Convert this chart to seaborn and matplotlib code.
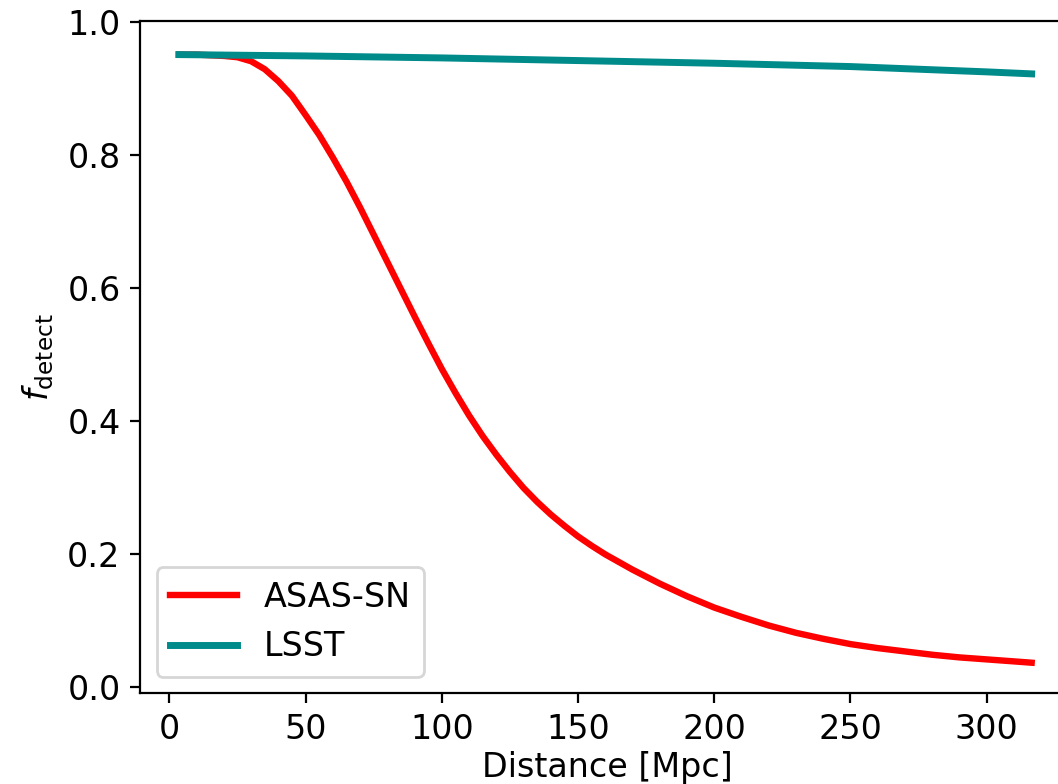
import numpy as np
import pandas as pd
import seaborn as sns
import matplotlib
matplotlib.use("Agg")
import matplotlib.pyplot as plt

# Values
asassn_dist = [3.5, 10, 15, 20, 25, 30, 35, 40, 45, 50, 55, 60, 65, 70, 75,
               80, 85, 90, 95, 100, 105, 110, 115, 120, 125, 130, 135, 140,
               145, 150, 155, 160, 170, 180, 190, 200, 210, 220, 230, 240, 250,
               260, 270, 280, 290, 300, 310, 316.5]
asassn_frac = [0.951, 0.951, 0.950, 0.949, 0.947, 0.941, 0.929, 0.911, 0.889,
               0.860, 0.830, 0.796, 0.760, 0.721, 0.680, 0.639, 0.598, 0.557,
               0.517, 0.478, 0.442, 0.408, 0.377, 0.349, 0.323, 0.299, 0.278,
               0.259, 0.242, 0.226, 0.212, 0.199, 0.176, 0.155, 0.136, 0.119,
               0.105, 0.092, 0.081, 0.072, 0.064, 0.058, 0.053, 0.048, 0.044,
               0.041, 0.038, 0.036]

lsst_dist = [3.5, 50, 100, 150, 200, 250, 300, 316.5]
lsst_frac = [0.951, 0.949, 0.946, 0.942, 0.938, 0.933, 0.925, 0.922]

plt.rcParams['font.size'] = 12

asassn = pd.DataFrame({'dist': asassn_dist, 'frac': asassn_frac})
lsst = pd.DataFrame({'dist': lsst_dist, 'frac': lsst_frac})

fig = plt.figure(figsize=(5.29, 3.92), dpi=200)
ax = fig.add_axes([0.1323, 0.1157, 0.8827, 0.8579])

sns.lineplot(data=asassn, x='dist', y='frac', ax=ax, color='red',
             linewidth=2.3, label='ASAS-SN')
sns.lineplot(data=lsst, x='dist', y='frac', ax=ax, color='darkcyan',
             linewidth=2.5, label='LSST')

ax.set_xlim(-10.8, 332)
ax.set_ylim(-0.01, 1.002)
ax.set_yticks([0.0, 0.2, 0.4, 0.6, 0.8, 1.0])
ax.set_xlabel('Distance [Mpc]', labelpad=2)
ax.set_ylabel(r'$f_{\rm detect}$')
ax.legend(loc='lower left')

fig.savefig('out.png', dpi=200)
